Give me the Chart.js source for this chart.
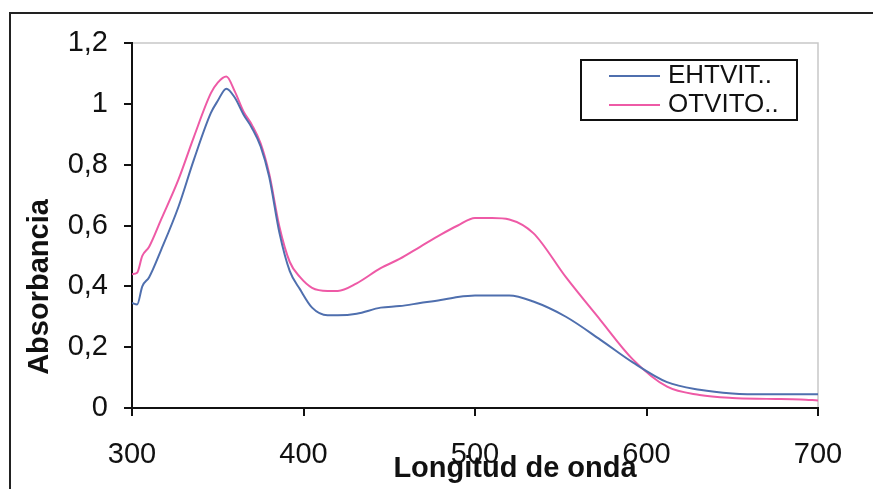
<!DOCTYPE html>
<html>
<head>
<meta charset="utf-8">
<script src="https://cdn.jsdelivr.net/npm/chart.js@4.4.1/dist/chart.umd.min.js"></script>
<style>
  html, body { margin: 0; padding: 0; background: #fff; }
  #wrap { width: 873px; height: 489px; }
</style>
</head>
<body>
<div id="wrap"><canvas id="chart"></canvas></div>
<script>
// wavelength (nm)
const wavelengths = [300, 303, 306, 310, 317, 327, 336, 346, 350, 355, 360, 365, 370, 375, 380, 386, 392, 398, 405, 414, 420, 431, 445, 456, 468, 480, 490, 500, 510, 520, 534, 553, 573, 592, 612, 631, 650, 670, 690, 700];
// absorbance
const ehtvit = [0.345, 0.34, 0.40, 0.43, 0.52, 0.66, 0.815, 0.97, 1.01, 1.05, 1.02, 0.965, 0.92, 0.86, 0.76, 0.575, 0.45, 0.39, 0.33, 0.305, 0.305, 0.31, 0.33, 0.335, 0.345, 0.355, 0.365, 0.37, 0.37, 0.37, 0.35, 0.30, 0.225, 0.15, 0.085, 0.06, 0.048, 0.045, 0.045, 0.045];
const otvito = [0.44, 0.445, 0.50, 0.53, 0.62, 0.75, 0.89, 1.035, 1.07, 1.09, 1.04, 0.975, 0.93, 0.87, 0.77, 0.595, 0.48, 0.43, 0.395, 0.385, 0.385, 0.41, 0.46, 0.49, 0.53, 0.57, 0.60, 0.625, 0.625, 0.62, 0.575, 0.43, 0.29, 0.16, 0.07, 0.043, 0.033, 0.03, 0.028, 0.025];
const seriesNames = ['EHTVIT..', 'OTVITO..'];
const seriesColors = ['#4f6fae', '#ee5aa6'];
const yTicks = [0, 0.2, 0.4, 0.6, 0.8, 1, 1.2];
const xTicks = [300, 400, 500, 600, 700];

const toPoints = (ys) => wavelengths.map((x, i) => ({ x: x, y: ys[i] }));

// frame, plot border, axis titles and the boxed legend
const decor = {
  id: 'decor',
  beforeDraw(chart) {
    const ctx = chart.ctx;
    ctx.save();
    ctx.fillStyle = '#fff';
    ctx.fillRect(0, 0, chart.width, chart.height);
    ctx.strokeStyle = '#222';
    ctx.lineWidth = 2;
    ctx.beginPath();
    ctx.moveTo(10, chart.height);
    ctx.lineTo(10, 13);
    ctx.lineTo(chart.width, 13);
    ctx.stroke();
    const a = chart.chartArea;
    ctx.strokeStyle = '#c8c8c8';
    ctx.lineWidth = 1.5;
    ctx.beginPath();
    ctx.moveTo(a.left, a.top);
    ctx.lineTo(a.right, a.top);
    ctx.lineTo(a.right, a.bottom);
    ctx.stroke();
    ctx.restore();
  },
  afterDraw(chart) {
    const ctx = chart.ctx;
    ctx.save();
    ctx.fillStyle = '#111';
    ctx.font = 'bold 29px "Liberation Sans", Arial, sans-serif';
    ctx.textAlign = 'center';
    ctx.textBaseline = 'middle';
    ctx.fillText('Longitud de onda', 515, 469);
    ctx.translate(40, 287);
    ctx.rotate(-Math.PI / 2);
    ctx.fillText('Absorbancia', 0, 0);
    ctx.restore();

    ctx.save();
    ctx.strokeStyle = '#111';
    ctx.lineWidth = 2;
    ctx.strokeRect(581, 60, 216, 60);
    ctx.font = '26px "Liberation Sans", Arial, sans-serif';
    ctx.textBaseline = 'middle';
    ctx.fillStyle = '#111';
    chart.data.datasets.forEach((ds, i) => {
      const y = 76 + i * 29;
      ctx.strokeStyle = ds.borderColor;
      ctx.lineWidth = 2;
      ctx.beginPath();
      ctx.moveTo(609, y);
      ctx.lineTo(660, y);
      ctx.stroke();
      ctx.fillText(ds.label, 668, y);
    });
    ctx.restore();
  }
};

const fmt = (v) => {
  if (Math.abs(v) < 1e-9) return '0';
  if (Math.abs(v - 1) < 1e-9) return '1';
  return v.toFixed(1).replace('.', ',');
};

new Chart(document.getElementById('chart'), {
  type: 'line',
  data: {
    datasets: [
      { label: seriesNames[0], data: toPoints(ehtvit), borderColor: seriesColors[0] },
      { label: seriesNames[1], data: toPoints(otvito), borderColor: seriesColors[1] }
    ]
  },
  options: {
    responsive: true,
    maintainAspectRatio: false,
    animation: false,
    elements: {
      point: { radius: 0 },
      line: { borderWidth: 2, cubicInterpolationMode: 'monotone', fill: false }
    },
    layout: { padding: { left: 0, right: 55, top: 43, bottom: 0 } },
    plugins: { legend: { display: false }, tooltip: { enabled: false } },
    scales: {
      x: {
        type: 'linear',
        min: 300,
        max: 700,
        afterBuildTicks: (s) => { s.ticks = xTicks.map(v => ({ value: v })); },
        afterFit: (s) => { s.height = 81; },
        grid: { drawOnChartArea: false, drawTicks: true, tickLength: 8, color: '#111', lineWidth: 2 },
        border: { color: '#111', width: 2 },
        ticks: {
          color: '#111',
          padding: 22,
          maxRotation: 0,
          font: { family: '"Liberation Sans", Arial, sans-serif', size: 29 }
        }
      },
      y: {
        min: 0,
        max: 1.2,
        afterBuildTicks: (s) => { s.ticks = yTicks.map(v => ({ value: v })); },
        afterFit: (s) => { s.width = 132; },
        grid: { drawOnChartArea: false, drawTicks: true, tickLength: 8, color: '#111', lineWidth: 2 },
        border: { color: '#111', width: 2 },
        ticks: {
          color: '#111',
          padding: 16,
          callback: fmt,
          font: { family: '"Liberation Sans", Arial, sans-serif', size: 29 }
        }
      }
    }
  },
  plugins: [decor]
});
</script>
</body>
</html>
